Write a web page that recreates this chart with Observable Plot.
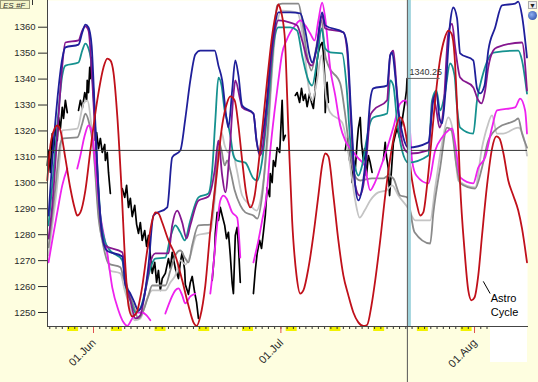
<!DOCTYPE html>
<html><head><meta charset="utf-8">
<script src="https://cdn.jsdelivr.net/npm/d3@7"></script>
<script src="https://cdn.jsdelivr.net/npm/@observablehq/plot@0.6"></script>
<style>
html,body{margin:0;padding:0;background:#fefee0;}
#wrap{position:relative;width:538px;height:382px;overflow:hidden;background:#fefee0;}
#wrap svg{position:absolute;left:0;top:0;}
.ov{position:absolute;}
</style></head><body>
<div id="wrap"></div>
<script>
// ---- data (day offset from 01 Jun 2011, price) ----
const yTicks = [1250,1260,1270,1280,1290,1300,1310,1320,1330,1340,1350,1360];
const monthStarts = ["2011-06-01","2011-07-01","2011-08-01"];
const monthLabels = ["01.Jun","01.Jul","01.Aug"];
const cursorDay = 50.25, cursorEnd = 55.5;
const lastPrice = 1340.25, crossPrice = 1312.5;
const astroLabel = {d: 63.6, v: 1252.9, text: "Astro\nCycle"};
const astroLeader = {d1: 62.4, v1: 1262.0, d2: 63.5, v2: 1257.3};

const navy = [[-7.2,1287.4],[-6.6,1308.6],[-5.8,1331.8],[-5.0,1347.9],[-4.5,1352.2],[-2.4,1353.3],[-1.8,1358.0],[-1.3,1361.0],[-0.8,1359.9],[-0.3,1352.9],[0.2,1327.9],[0.8,1297.1],[1.4,1279.7],[2.1,1273.9],[4.6,1271.6],[5.1,1260.4],[5.8,1257.7],[6.4,1254.7],[7.2,1250.8],[8.0,1254.7],[8.8,1268.1],[9.6,1287.4],[11.8,1290.5],[12.6,1309.8],[13.9,1312.5],[14.7,1324.8],[15.5,1339.5],[16.3,1349.5],[17.1,1351.0],[19.4,1351.0],[20.0,1345.2],[20.6,1339.5],[21.3,1324.8],[21.6,1321.3],[22.2,1335.6],[22.7,1347.2],[23.2,1341.4],[23.8,1329.8],[25.6,1326.7],[26.1,1316.3],[26.6,1311.3],[27.0,1317.5],[27.7,1329.8],[28.3,1347.2],[29.1,1361.8],[29.6,1365.7],[31.5,1365.7],[33.1,1365.3],[33.9,1358.7],[34.6,1349.1],[35.0,1346.4],[35.7,1351.8],[36.6,1365.7],[37.1,1360.7],[40.0,1358.0],[40.6,1352.9],[41.3,1324.0],[41.9,1299.0],[42.4,1293.2],[43.0,1297.8],[43.7,1312.5],[44.3,1331.8],[44.8,1336.4],[47.0,1337.5],[47.5,1349.1],[47.8,1350.3],[48.3,1341.4],[48.8,1327.9],[49.6,1317.5],[50.4,1313.6],[53.6,1315.6],[54.4,1331.8],[54.9,1334.8],[55.4,1324.8],[55.8,1322.9],[56.3,1333.7],[57.1,1361.8],[57.6,1367.6],[58.2,1363.4],[58.7,1349.9],[60.8,1347.2],[61.4,1336.4],[61.9,1334.5],[62.6,1337.5],[63.2,1351.0],[64.3,1359.9],[65.4,1368.4],[67.5,1369.1],[68.0,1369.9],[68.6,1364.5],[69.4,1348.3]];

const purple = [[-7.2,1278.5],[-6.6,1291.3],[-5.8,1318.3],[-5.0,1345.2],[-4.5,1354.1],[-2.4,1354.9],[-1.8,1358.7],[-1.3,1360.3],[-0.8,1358.7],[-0.2,1339.5],[0.5,1308.6],[1.1,1285.5],[1.8,1275.9],[4.6,1273.2],[5.3,1260.4],[5.9,1254.7],[6.7,1247.7],[7.5,1248.9],[8.3,1258.5],[9.1,1269.3],[9.9,1272.8],[12.0,1272.8],[12.6,1283.6],[13.4,1289.3],[14.2,1284.7],[14.9,1278.5],[15.5,1283.6],[16.8,1293.2],[18.4,1294.7],[19.4,1304.8],[20.0,1316.3],[20.6,1302.8],[21.1,1296.3],[21.8,1312.5],[22.4,1333.7],[22.7,1339.5],[23.5,1331.8],[23.8,1329.1],[25.6,1326.7],[26.1,1316.3],[26.6,1310.5],[27.0,1312.5],[28.0,1335.6],[28.8,1354.9],[29.6,1362.6],[31.5,1361.8],[32.6,1360.7],[33.4,1354.9],[34.4,1346.4],[35.0,1345.2],[35.8,1352.9],[36.6,1364.5],[37.1,1359.5],[40.0,1358.0],[40.6,1351.0],[41.3,1320.2],[41.9,1299.0],[42.6,1295.1],[43.2,1299.0],[43.8,1312.5],[44.3,1326.0],[44.8,1327.9],[47.0,1331.8],[47.5,1349.1],[48.0,1351.0],[48.5,1337.5],[49.1,1320.2],[49.9,1312.5],[50.7,1311.3],[53.6,1312.5],[54.4,1332.9],[54.9,1327.9],[55.4,1321.3],[56.0,1327.9],[56.8,1357.6],[57.4,1361.4],[57.9,1352.2],[58.7,1340.6],[60.8,1336.8],[61.6,1331.8],[62.1,1330.6],[62.7,1335.6],[63.2,1344.5],[64.0,1351.0],[64.6,1352.2],[68.6,1354.1],[69.4,1335.6]];

const teal = [[-7.2,1283.6],[-6.6,1299.0],[-5.8,1322.1],[-5.0,1341.4],[-4.5,1345.2],[-2.4,1346.4],[-1.8,1351.0],[-1.3,1353.7],[-0.8,1351.8],[-0.3,1345.2],[0.3,1320.2],[1.1,1287.4],[1.8,1277.8],[2.4,1274.7],[4.6,1270.1],[5.3,1258.5],[5.9,1254.7],[6.7,1250.0],[7.5,1251.6],[8.3,1258.5],[9.1,1267.0],[9.9,1270.8],[11.5,1271.2],[12.3,1278.9],[13.1,1283.6],[13.9,1280.9],[14.6,1277.8],[15.5,1285.5],[16.8,1294.4],[18.4,1295.9],[19.0,1304.8],[19.5,1324.0],[20.0,1340.6],[20.5,1337.5],[21.0,1327.9],[21.4,1324.0],[21.9,1318.3],[22.4,1310.5],[22.9,1308.6],[24.3,1307.8],[25.6,1301.7],[26.2,1300.9],[27.0,1308.6],[28.0,1331.8],[28.8,1352.9],[29.6,1359.9],[31.5,1359.9],[32.6,1358.7],[33.4,1349.1],[34.4,1339.5],[35.0,1337.5],[35.8,1347.2],[36.5,1359.5],[37.1,1351.8],[37.9,1350.3],[39.8,1349.9],[40.5,1337.5],[41.1,1316.3],[41.8,1306.7],[42.4,1302.8],[43.0,1306.7],[43.7,1316.3],[44.3,1323.3],[44.8,1325.2],[47.0,1326.7],[47.5,1339.5],[48.0,1337.5],[48.6,1324.0],[49.4,1312.5],[50.4,1307.8],[53.6,1310.5],[54.2,1331.8],[54.9,1335.6],[55.5,1327.9],[56.2,1333.7],[57.1,1346.0],[57.8,1341.4],[58.2,1329.1],[58.7,1321.3],[60.8,1319.0],[61.4,1331.8],[62.2,1340.6],[63.8,1349.9],[64.3,1350.3],[68.0,1351.0],[68.6,1347.2],[69.4,1334.4]];

const gray = [[-7.2,1275.1],[-6.6,1287.4],[-6.1,1298.2],[-5.3,1315.2],[-4.8,1317.1],[-2.6,1317.5],[-1.8,1322.9],[-1.3,1326.7],[-0.8,1324.0],[0.0,1312.5],[0.8,1286.6],[1.4,1277.8],[2.4,1268.9],[4.3,1267.4],[4.8,1263.5],[5.6,1258.5],[6.4,1252.7],[7.2,1247.7],[8.0,1250.8],[8.8,1256.6],[9.4,1260.4],[11.5,1260.4],[12.3,1266.2],[13.1,1272.0],[13.9,1273.9],[14.7,1270.8],[15.2,1269.3],[15.8,1275.9],[16.8,1283.6],[18.7,1283.9],[19.4,1297.1],[20.0,1316.3],[20.5,1312.5],[21.0,1306.7],[21.4,1308.6],[21.9,1304.8],[22.6,1297.1],[23.5,1291.3],[24.3,1288.6],[25.6,1287.4],[26.2,1286.2],[27.0,1295.1],[28.0,1324.0],[28.8,1352.9],[29.4,1368.4],[30.2,1369.1],[32.8,1369.1],[33.4,1362.6],[34.2,1349.1],[34.9,1343.3],[35.7,1352.9],[36.5,1362.6],[37.1,1349.1],[37.6,1345.2],[39.5,1338.3],[40.2,1327.9],[40.8,1316.3],[41.4,1306.7],[42.1,1301.7],[42.7,1300.9],[44.6,1301.7],[46.4,1301.7],[47.2,1302.8],[48.0,1301.7],[49.1,1295.1],[50.2,1294.4],[51.4,1280.9],[53.9,1276.6],[54.4,1288.2],[55.5,1305.9],[56.6,1321.3],[57.3,1320.2],[58.1,1306.7],[58.7,1299.8],[61.1,1297.8],[62.2,1305.9],[63.2,1316.3],[64.8,1321.3],[67.5,1324.0],[68.0,1324.8],[68.6,1319.0],[69.4,1313.6]];

const lightGray = [[-7.2,1272.0],[-6.6,1283.6],[-5.9,1297.1],[-5.3,1312.5],[-5.0,1320.2],[-2.6,1320.9],[-1.6,1330.6],[-1.0,1331.8],[-0.2,1319.0],[1.1,1281.6],[2.2,1272.8],[2.6,1266.2],[4.3,1265.1],[5.0,1258.5],[5.8,1252.7],[6.6,1247.0],[7.5,1247.7],[8.5,1254.7],[9.4,1258.5],[11.5,1258.5],[12.3,1261.6],[13.1,1264.3],[13.9,1270.1],[14.7,1268.5],[15.5,1272.0],[16.5,1279.7],[18.7,1280.9],[19.4,1293.2],[20.0,1312.5],[20.5,1319.4],[21.0,1314.4],[21.6,1311.7],[22.2,1312.5],[22.9,1305.5],[23.8,1295.1],[25.1,1291.3],[26.1,1289.3],[27.0,1297.1],[28.0,1320.2],[28.6,1343.3],[29.3,1360.7],[30.2,1366.4],[32.6,1365.7],[33.6,1354.9],[34.4,1337.5],[35.0,1331.8],[35.8,1339.5],[36.5,1349.1],[37.3,1331.8],[37.9,1327.1],[39.8,1323.3],[40.5,1316.3],[41.1,1306.7],[41.9,1293.2],[42.6,1286.6],[43.4,1289.3],[44.3,1293.2],[45.6,1296.3],[46.9,1297.1],[47.8,1299.0],[48.8,1295.1],[50.4,1290.1],[51.5,1285.5],[53.9,1285.5],[54.7,1298.2],[55.8,1315.2],[56.8,1325.2],[57.6,1319.0],[58.4,1300.9],[61.1,1298.2],[62.2,1313.6],[63.0,1321.3],[63.8,1326.0],[64.6,1319.0],[65.6,1319.0],[68.0,1321.3],[69.1,1315.2],[69.4,1310.5]];

const magentaSegments = [
 [[-7.2,1269.3],[-6.6,1277.8],[-5.8,1288.6],[-5.0,1299.0],[-4.2,1305.5]],
 [[-2.6,1305.5],[-2.1,1310.5],[-1.4,1318.3],[-0.8,1322.1],[-0.3,1320.2],[0.3,1306.7],[1.1,1287.4],[1.6,1280.5],[2.2,1272.8],[3.0,1259.7],[4.0,1250.8],[4.8,1246.2],[5.4,1244.8],[6.2,1247.7],[7.0,1250.0],[7.8,1250.0],[8.5,1248.9],[9.1,1247.0]],
 [[11.5,1249.6],[12.3,1254.7],[13.1,1258.5],[13.6,1259.3],[14.2,1256.6],[14.7,1253.5],[15.5,1256.2],[16.3,1257.3]],
 [[18.7,1257.3],[19.2,1268.1],[19.7,1281.6],[20.3,1293.2],[20.8,1295.1],[21.3,1294.0],[22.2,1288.6],[23.0,1286.6],[23.5,1271.2]],
 [[25.6,1269.3],[26.4,1277.8],[27.0,1285.5],[27.7,1295.1],[28.3,1312.5],[29.0,1327.9],[29.6,1339.5],[30.2,1349.9],[30.9,1354.9],[31.5,1358.0],[32.3,1360.7],[33.1,1362.6],[33.9,1360.7],[34.7,1357.6],[35.4,1354.9],[36.0,1362.6],[36.6,1369.5],[37.1,1363.4],[37.9,1344.1],[38.7,1333.7],[39.5,1322.1],[40.3,1316.3],[41.4,1312.5],[42.4,1309.4],[43.4,1306.7],[44.3,1297.1],[45.0,1299.8],[45.9,1305.5],[46.9,1312.5],[48.0,1321.3],[49.1,1330.6],[49.9,1331.8],[50.4,1328.7],[51.0,1308.6],[51.7,1302.8],[53.6,1299.8],[54.7,1312.5],[55.8,1317.5],[56.8,1320.2],[57.4,1321.0],[57.9,1315.2],[58.7,1302.1],[60.8,1299.8],[61.6,1305.9],[62.7,1309.8],[63.8,1321.3],[64.6,1327.9],[67.5,1329.1],[68.3,1332.5],[69.1,1327.9],[69.4,1319.0]]
];

const astro = [[-7.4,1300.9],[-6.9,1314.4],[-6.2,1321.0],[-5.8,1322.1],[-5.3,1320.2],[-4.5,1309.4],[-3.7,1297.8],[-3.0,1290.1],[-2.6,1287.4],[-2.1,1288.6],[-1.3,1297.1],[-0.5,1312.5],[0.6,1331.8],[1.6,1344.5],[2.2,1347.9],[2.7,1347.2],[3.2,1342.5],[3.8,1326.0],[4.5,1297.1],[5.1,1268.1],[5.6,1252.7],[6.2,1248.5],[6.9,1250.0],[7.7,1258.5],[8.6,1273.9],[9.4,1285.5],[9.9,1288.6],[10.4,1288.2],[11.0,1284.7],[12.0,1277.8],[13.1,1272.0],[14.2,1262.4],[15.2,1252.7],[16.0,1246.2],[16.5,1244.8],[17.1,1248.5],[17.9,1260.4],[18.7,1281.6],[19.7,1302.8],[20.6,1322.1],[21.4,1331.0],[21.9,1333.3],[22.6,1331.8],[23.2,1322.1],[23.8,1308.6],[24.5,1295.1],[25.1,1290.5],[25.8,1295.1],[26.4,1306.7],[27.0,1320.2],[27.8,1339.5],[28.6,1356.8],[29.3,1366.4],[29.6,1368.8],[29.9,1367.2],[30.6,1356.8],[31.2,1320.2],[31.8,1285.5],[32.5,1264.3],[33.1,1257.3],[33.6,1258.5],[34.4,1267.0],[35.2,1279.7],[36.0,1295.1],[36.6,1306.7],[37.1,1311.3],[37.6,1310.2],[38.4,1295.1],[39.2,1277.8],[40.0,1264.3],[40.8,1256.6],[41.6,1250.0],[42.4,1246.2],[43.2,1244.8],[43.8,1245.2],[44.5,1252.7],[45.1,1262.4],[45.9,1277.8],[46.7,1295.1],[47.5,1309.4],[48.3,1320.2],[49.1,1325.2],[49.6,1323.3],[50.4,1312.5],[51.0,1300.9],[51.8,1291.3],[52.3,1287.4],[52.8,1288.6],[53.4,1299.0],[54.1,1316.3],[54.7,1331.8],[55.5,1347.9],[56.2,1355.6],[56.8,1358.7],[57.3,1357.6],[57.8,1349.1],[58.2,1329.8],[58.7,1299.0],[59.4,1273.9],[60.0,1258.5],[60.5,1254.7],[61.0,1255.8],[61.6,1264.3],[62.2,1279.7],[63.0,1299.0],[63.8,1313.2],[64.5,1317.9],[65.0,1317.1],[65.6,1311.7],[66.4,1300.9],[67.2,1295.1],[68.0,1289.3],[68.6,1282.4],[69.4,1269.3]];

const priceSegments = [
 [[-7.4,1306.7],[-7.2,1312.5],[-6.9,1304.0],[-6.6,1319.0],[-6.4,1311.7],[-6.1,1321.3],[-5.8,1316.3],[-5.6,1325.2],[-5.3,1321.0],[-5.0,1329.1],[-4.8,1324.8],[-4.5,1331.8],[-4.2,1327.1]],
 [[-2.4,1327.9],[-2.1,1331.8],[-1.8,1328.7],[-1.4,1334.8],[-1.1,1331.8],[-1.0,1339.5],[-0.8,1334.8],[-0.6,1344.5],[-0.5,1340.2],[-0.3,1348.3],[-0.2,1342.5],[0.0,1334.8],[0.2,1326.0],[0.3,1316.3],[0.5,1319.4],[0.8,1313.2],[1.1,1317.1],[1.4,1311.7],[1.8,1314.8],[1.9,1308.6],[2.2,1311.7],[2.4,1304.0],[2.7,1295.9]],
 [[4.6,1297.8],[5.0,1294.4],[5.3,1299.0],[5.6,1290.5],[5.9,1294.0],[6.2,1287.0],[6.6,1291.3],[6.9,1284.0],[7.2,1280.5],[7.5,1284.7],[7.8,1277.8],[8.2,1281.6],[8.5,1275.5],[8.8,1279.7],[9.1,1272.0],[9.4,1265.1],[9.8,1269.3],[10.1,1261.6],[10.4,1266.2],[10.7,1258.5],[11.0,1263.1],[11.5,1265.1],[12.0,1270.8],[12.3,1267.0],[12.6,1273.2],[13.1,1267.0],[13.6,1263.1],[13.9,1269.3],[14.2,1273.2],[14.6,1266.2],[14.7,1260.8],[15.2,1257.0],[15.5,1261.6],[15.8,1263.9],[16.2,1257.7],[16.5,1253.9],[16.8,1247.7]],
 [[19.0,1262.4],[19.4,1273.9],[19.5,1280.5],[19.8,1288.6],[20.0,1285.5],[20.3,1290.5],[20.6,1287.4],[21.0,1283.6],[21.3,1278.5],[21.6,1280.9],[21.9,1272.0],[22.2,1261.2],[22.4,1257.3],[22.7,1279.7],[23.0,1282.8],[23.2,1275.9],[23.5,1261.6]],
 [[25.6,1257.3],[25.9,1266.2],[26.2,1272.8],[26.6,1277.8],[26.9,1274.7],[27.2,1280.9],[27.5,1287.4],[27.8,1298.2],[28.2,1294.7],[28.3,1303.6],[28.6,1300.1],[28.8,1308.6],[29.1,1306.3],[29.4,1313.6],[29.8,1311.7],[29.9,1316.3],[30.2,1331.8],[30.4,1316.3],[30.7,1318.3]],
 [[32.3,1333.7],[32.6,1334.8],[33.0,1331.0],[33.3,1336.4],[33.6,1331.8],[33.9,1334.1],[34.2,1329.4],[34.6,1334.5],[34.9,1331.0],[35.2,1328.7],[35.5,1336.4],[35.8,1347.2],[36.0,1350.3],[36.3,1352.9],[36.6,1354.1],[36.8,1350.3],[37.0,1341.4],[37.1,1327.1],[37.3,1336.4],[37.4,1338.7],[37.6,1331.0]],
 [[40.3,1312.5],[40.6,1317.1],[41.0,1308.6],[41.1,1314.4],[41.4,1300.1],[41.6,1308.6],[41.9,1304.8],[42.2,1315.6],[42.4,1321.0],[42.7,1325.2],[42.9,1315.6],[43.2,1308.6],[43.4,1313.2],[43.7,1302.8],[44.0,1310.5],[44.3,1307.8],[44.6,1304.0]],
 [[46.4,1308.6],[46.7,1315.6],[46.9,1310.2],[47.2,1305.5],[47.4,1295.1],[47.7,1304.8],[48.0,1315.2],[48.3,1318.3],[48.6,1321.0],[49.0,1317.5],[49.3,1322.1],[49.6,1327.1],[49.9,1331.8],[50.1,1335.6],[50.2,1340.2]]
];

// ---- helpers ----
const T0 = Date.UTC(2011, 5, 1), DAY = 864e5;
const toDate = d => new Date(T0 + d * DAY);
const flat = segs => segs.flatMap((s, i) => s.map(p => ({d: p[0], v: p[1], z: i})));
const xDomain = [toDate(-7.365), toDate(69.48)];
const yDomain = [1244.6, 1370.3];
const allDays = d3.utcDay.range(xDomain[0], xDomain[1]);
const weekends = d3.utcSaturday.range(toDate(-9), xDomain[1]).map(d => new Date(+d + 0.65 * DAY));
const months = monthStarts.map(s => new Date(s + "T00:00:00Z"));

const line = (data, stroke, extra = {}) => Plot.line(data, {
  x: p => toDate(p[0]), y: p => p[1], stroke, strokeWidth: 1.8, curve: "monotone-x", ...extra
});

const chart = Plot.plot({
  width: 538, height: 382,
  marginLeft: 47, marginRight: 11, marginTop: 0, marginBottom: 56,
  style: {background: "transparent", fontFamily: "Liberation Sans, Arial, sans-serif", fontSize: "9.5px", color: "#2a2a2a", overflow: "visible"},
  x: {type: "utc", domain: xDomain, axis: null},
  y: {domain: yDomain, ticks: yTicks, tickSize: 9, tickPadding: 3, tickFormat: d => String(d), label: null},
  marks: [
    Plot.frame({fill: "white", stroke: "none"}),
    // weekend marks and daily ticks below the axis
    Plot.ruleX(weekends, {x: d => d, stroke: "#f2f200", strokeWidth: 11, insetTop: 322, dy: 5}),
    Plot.ruleX(allDays, {x: d => d, stroke: "#333", strokeWidth: 1, insetTop: 323, dy: 3}),
    Plot.ruleX(months, {x: d => d, stroke: "#e05050", strokeWidth: 1, insetTop: 320, dy: 7}),
    Plot.text(months, {x: d => d, frameAnchor: "bottom", text: (d, i) => monthLabels[i], rotate: -45, textAnchor: "end", dx: 3, dy: 17, fontSize: 11, fill: "#2a2a2a"}),
    // price and indicator lines
    Plot.line(flat(priceSegments), {x: p => toDate(p.d), y: "v", z: "z", stroke: "#000", strokeWidth: 1.7}),
    line(lightGray, "#c4c4c4"),
    line(gray, "#8a8a8a"),
    Plot.line(flat(magentaSegments), {x: p => toDate(p.d), y: "v", z: "z", stroke: "#ee22ee", strokeWidth: 1.8, curve: "monotone-x"}),
    line(teal, "#15918f"),
    line(purple, "#85178f"),
    line(navy, "#1f1f9a"),
    line(astro, "#c0101a"),
    // crosshair & cursor
    Plot.ruleY([crossPrice], {stroke: "#333", strokeWidth: 1}),
    Plot.ruleX([toDate(cursorDay)], {x: d => d, stroke: "#9fd3dc", strokeWidth: 3, dx: 2}),
    Plot.ruleX([toDate(cursorDay)], {x: d => d, stroke: "#555", strokeWidth: 1, insetBottom: -56}),
    Plot.ruleY([lastPrice], {x1: toDate(cursorDay), x2: toDate(cursorEnd), stroke: "#666", strokeWidth: 1}),
    Plot.text([lastPrice], {x: toDate(cursorDay), y: d => d, text: d => d.toFixed(2), dx: 2, dy: -6, textAnchor: "start", fontSize: 9, fill: "#333"}),
    Plot.frame({anchor: "left", stroke: "#444"}),
    Plot.frame({anchor: "bottom", stroke: "#444"}),
    // Astro cycle annotation
    Plot.link([astroLeader], {x1: a => toDate(a.d1), y1: "v1", x2: a => toDate(a.d2), y2: "v2", stroke: "#000", strokeWidth: 1}),
    Plot.text([astroLabel], {x: a => toDate(a.d), y: "v", text: "text", textAnchor: "start", fontSize: 11, lineHeight: 1.27, fill: "#000"})
  ]
});
const wrap = document.getElementById("wrap");
wrap.appendChild(chart);

// decorations (chart-window chrome)
function ov(css, html) { const e = document.createElement("div"); e.className = "ov"; e.style.cssText = css; if (html) e.innerHTML = html; wrap.appendChild(e); }
ov("left:490px;top:327px;width:37px;height:35px;background:#fff;");
ov("left:0;top:0;width:30px;height:9px;border:1px solid #9a9a7a;background:#f4f4c8;font:italic 8px 'Liberation Sans',Arial,sans-serif;line-height:9px;color:#333;padding-left:2px;box-sizing:border-box;", "ES #F");
ov("left:32px;top:0;width:1px;height:5px;background:#333;");
ov("left:528px;top:1px;width:9px;height:8px;border:1px solid #aaa;background:#eee;font:7px sans-serif;line-height:8px;text-align:center;color:#222;box-sizing:border-box;", "▼");
ov("left:528px;top:11px;width:9px;height:9px;border-radius:50%;background:radial-gradient(circle at 40% 40%,#8fb0f0,#1c3fa0);");
</script>
</body></html>
